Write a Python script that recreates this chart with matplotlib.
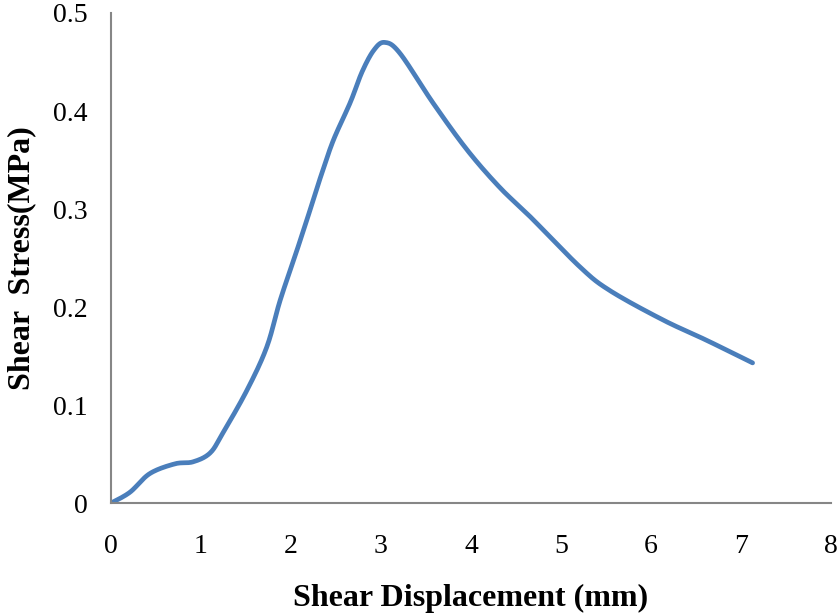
import matplotlib
matplotlib.use("Agg")
import matplotlib.pyplot as plt
import numpy as np

# shear test curve
displacement = [0.0, 0.21, 0.43, 0.71, 0.91, 1.10, 1.24, 1.51, 1.73, 1.88,
                2.07, 2.24, 2.33, 2.47, 2.66, 2.79, 2.92, 3.04, 3.21, 3.58,
                3.96, 4.32, 4.66, 5.21, 5.54, 6.13, 6.62, 7.13]
stress = [0.0, 0.011, 0.030, 0.040, 0.042, 0.051, 0.071, 0.115, 0.159, 0.207,
          0.259, 0.307, 0.333, 0.370, 0.409, 0.440, 0.462, 0.470, 0.459, 0.408,
          0.360, 0.322, 0.292, 0.241, 0.217, 0.187, 0.166, 0.143]

x_ticks = [0, 1, 2, 3, 4, 5, 6, 7, 8]
y_ticks = [0, 0.1, 0.2, 0.3, 0.4, 0.5]
y_tick_labels = ["0", "0.1", "0.2", "0.3", "0.4", "0.5"]

LINE = "#4a7ebb"
SPINE = "#868686"

plt.rcParams.update({
    "font.family": ["Liberation Serif", "DejaVu Serif"],
})


def smooth(xs, ys, n=20):
    """Catmull-Rom pass through the points, like Excel's smoothed line."""
    p = np.column_stack([xs, ys])
    p = np.vstack([p[0], p, p[-1]])
    out = []
    t = np.linspace(0, 1, n, endpoint=False)[:, None]
    for i in range(1, len(p) - 2):
        p0, p1, p2, p3 = p[i - 1], p[i], p[i + 1], p[i + 2]
        seg = 0.5 * ((2 * p1) + (-p0 + p2) * t
                     + (2 * p0 - 5 * p1 + 4 * p2 - p3) * t ** 2
                     + (-p0 + 3 * p1 - 3 * p2 + p3) * t ** 3)
        out.append(seg)
    out.append(p[-2][None, :])
    out = np.vstack(out)
    return out[:, 0], out[:, 1]


fig = plt.figure(figsize=(8.38, 6.13), dpi=100)
ax = fig.add_axes([0.1325, 0.1794, 0.859, 0.7994])

sx, sy = smooth(displacement, stress)
ax.plot(sx, sy, color=LINE, linewidth=3.4,
        solid_capstyle="round", solid_joinstyle="round")

ax.set_xlim(0, 8)
ax.set_ylim(0, 0.5)
ax.set_xticks(x_ticks)
ax.set_yticks(y_ticks)
ax.set_yticklabels(y_tick_labels)
ax.tick_params(axis="both", length=0, labelsize=20)
ax.tick_params(axis="x", pad=22)
ax.tick_params(axis="y", pad=17)

for side in ["top", "right"]:
    ax.spines[side].set_visible(False)
for side in ["left", "bottom"]:
    ax.spines[side].set_color(SPINE)
    ax.spines[side].set_linewidth(1.5)

ax.set_xlabel("Shear Displacement (mm)", fontsize=23, fontweight="bold", labelpad=18)
ax.set_ylabel("Shear  Stress(MPa)", fontsize=23, fontweight="bold", labelpad=12)

fig.savefig("out.png", dpi=100)
